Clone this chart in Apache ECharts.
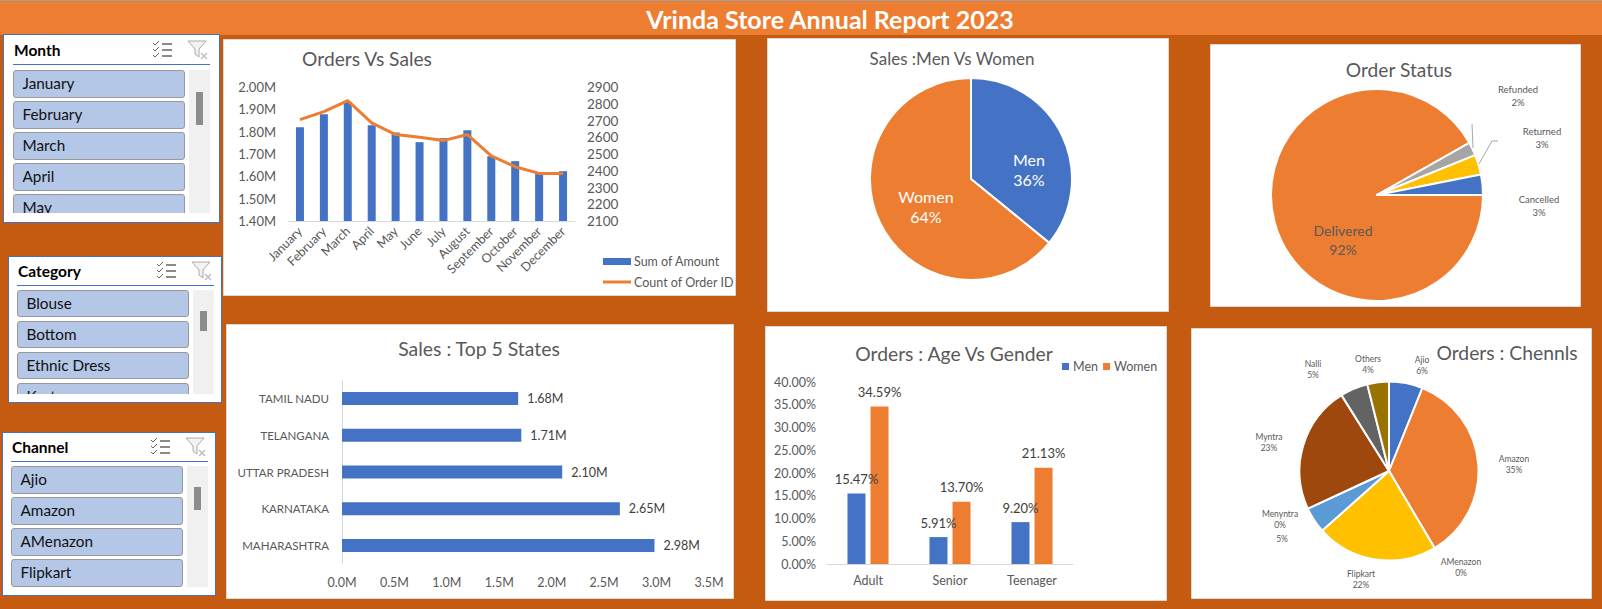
<!DOCTYPE html>
<html><head><meta charset="utf-8">
<script src="https://cdn.jsdelivr.net/npm/echarts@6/dist/echarts.min.js"></script>
<style>
html,body{margin:0;padding:0;background:#C55A11;overflow:hidden}
#chart{position:absolute;left:0;top:0;width:1602px;height:609px}
.slicer{position:absolute;background:#fff;border:1px solid #4472C4;box-sizing:border-box;font-family:Lato,"Noto Sans",sans-serif}
.slicer .t{position:absolute;font-size:15.5px;font-weight:700;color:#000;line-height:20px}
.slicer .u{position:absolute;height:1px;background:#4472C4;width:197px}
.slicer .list{position:absolute;overflow:hidden;width:172px}
.slicer .it{box-sizing:border-box;height:27.5px;margin-bottom:3.5px;background:#B4C7E7;border:1px solid #999;border-radius:3px;font-size:15.3px;line-height:25px;padding-left:8.5px;color:#111}
.slicer .sb{position:absolute;background:#F0F0F0;width:21px}
.slicer .th{position:absolute;background:#8C8C8C;left:7px;width:7px}
.slicer svg{position:absolute}
</style></head><body>
<div id="chart"></div>
<div id="slicers"></div>
<script>
// ---- data ----
const months = ['January','February','March','April','May','June','July','August','September','October','November','December'];
const sumOfAmount = [1820000,1878000,1933000,1829000,1796000,1753000,1771000,1806000,1690000,1668000,1613000,1623000];
const countOfOrders = [2705,2753,2819,2686,2616,2600,2580,2616,2489,2424,2384,2384];
const genderNames = ['Men','Women'];
const genderSales = [35.9,64.1];
const statusNames = ['Delivered','Refunded','Returned','Cancelled'];
const statusValues = [91.8,2.05,3.05,3.1];
const stateNames = ['MAHARASHTRA','KARNATAKA','UTTAR PRADESH','TELANGANA','TAMIL NADU'];
const stateSales = [2980000,2650000,2100000,1710000,1680000];
const ageGroups = ['Adult','Senior','Teenager'];
const menOrders = [15.47,5.91,9.20];
const womenOrders = [34.59,13.70,21.13];
const channelNames = ['Ajio','Amazon','AMenazon','Flipkart','','Menyntra','Myntra','Nalli','Others'];
const channelValues = [6.1,35.4,0,21.9,4.7,0,23,5,3.9];
const monthSlicer = ['January','February','March','April','May'];
const categorySlicer = ['Blouse','Bottom','Ethnic Dress','Kurta'];
const channelSlicer = ['Ajio','Amazon','AMenazon','Flipkart'];

// ---- style ----
const FONT='Lato, "Noto Sans", sans-serif', BLUE='#4472C4', ORANGE='#ED7D31', GRAY='#595959', AXIS='#D9D9D9';
const axisText={color:GRAY,fontFamily:FONT,fontSize:12.5};
const panels=[[223,39,512,256],[767,38,401,273],[1210,44,370,262],[226,324,507,274],[765,326,401,274],[1191,328,400,270]];
const rect=(x,y,w,h,fill,stroke)=>({type:'rect',silent:true,shape:{x,y,width:w,height:h},style:{fill,stroke:stroke||null,lineWidth:1}});
const poly=pts=>({type:'polyline',silent:true,z:10,shape:{points:pts},style:{stroke:'#A6A6A6',lineWidth:1,fill:null}});
const title=(text,x,y,size)=>({text,left:x,top:y,padding:0,textAlign:'center',textVerticalAlign:'middle',textStyle:{color:GRAY,fontFamily:FONT,fontWeight:'normal',fontSize:size}});

const statusPos={Delivered:[1343,240],Refunded:[1518,96],Returned:[1542,138],Cancelled:[1539,206]};
const channelPos={Ajio:[1422,365],Amazon:[1514,464],AMenazon:[1461,567],Flipkart:[1361,579],'':[1282,539],Menyntra:[1280,519],Myntra:[1269,442],Nalli:[1313,369],Others:[1368,364]};
const genderPos={Men:[1029,169],Women:[926,206]};
const placer=(names,pos)=>p=>{const q=pos[names[p.dataIndex]];return {x:q[0],y:q[1],align:'center',verticalAlign:'middle'};};
const pieLabel=(size,color,lh)=>({show:true,position:'outside',color,fontFamily:FONT,fontSize:size,lineHeight:lh,alignTo:'none',
  formatter:p=>(p.name?p.name+'\n':'')+p.percent+'%'});
const pieBase={type:'pie',clockwise:true,percentPrecision:0,labelLine:{show:false},emphasis:{disabled:true},animation:false,silent:true,stillShowZeroSum:true,itemStyle:{borderColor:'#fff',borderWidth:2},avoidLabelOverlap:false};

const chart=echarts.init(document.getElementById('chart'),null,{renderer:'svg',width:1602,height:609});
chart.setOption({
  animation:false,
  graphic:[
    rect(0,0,1602,609,'#C55A11'),
    rect(0,0,1602,35,ORANGE),
    rect(0,0,1602,1,'#A0A0A0'),
    ...panels.map(p=>rect(p[0]+.5,p[1]+.5,p[2],p[3],'#fff',AXIS)),
    {type:'text',silent:true,x:830,y:19,style:{text:'Vrinda Store Annual Report 2023',fill:'#fff',fontFamily:FONT,fontWeight:700,fontSize:25,align:'center',verticalAlign:'middle'}},
    poly([[1472,124],[1473,148]]),
    poly([[1498,141],[1492,141],[1479,164]])
  ],
  title:[
    title('Orders Vs Sales',367,58,19.2),
    title('Sales :Men Vs Women',952,58,17),
    title('Order Status',1399,69,19.2),
    title('Sales : Top 5 States',479,348,19.4),
    title('Orders : Age Vs Gender',954,353,19.3),
    title('Orders : Chennls',1507,352,19.3)
  ],
  legend:[
    {data:[{name:'Sum of Amount',icon:'rect'},{name:'Count of Order ID',icon:'path://M0,0H28V3H0Z'}],orient:'vertical',padding:0,left:603,top:255,itemWidth:28,itemHeight:7,itemGap:7.5,textStyle:{color:GRAY,fontFamily:FONT,fontSize:12.5,padding:[0,0,0,-2]}},
    {data:['Men','Women'].map(name=>({name,icon:'rect'})),padding:0,left:1062,top:360,itemWidth:7,itemHeight:7,itemGap:5,textStyle:{color:GRAY,fontFamily:FONT,fontSize:12.5,padding:[0,0,0,-1]}}
  ],
  grid:[
    {left:288,top:87,width:287,height:134},
    {left:342,top:380,width:367,height:184},
    {left:827,top:382,width:246,height:182}
  ],
  xAxis:[
    {gridIndex:0,type:'category',data:months,axisTick:{show:false},axisLine:{lineStyle:{color:AXIS}},axisLabel:{...axisText,rotate:45,interval:0,margin:8}},
    {gridIndex:1,type:'value',min:0,max:3500000,interval:500000,splitLine:{show:false},axisLabel:{...axisText,margin:12,formatter:v=>(v/1e6).toFixed(1)+'M'}},
    {gridIndex:2,type:'category',data:ageGroups,axisTick:{show:false},axisLine:{lineStyle:{color:AXIS}},axisLabel:{...axisText,margin:10}}
  ],
  yAxis:[
    {gridIndex:0,type:'value',min:1400000,max:2000000,interval:100000,splitLine:{show:false},axisLabel:{...axisText,fontSize:13,margin:12,formatter:v=>(v/1e6).toFixed(2)+'M'}},
    {gridIndex:0,type:'value',min:2100,max:2900,interval:100,position:'right',splitLine:{show:false},axisLabel:{...axisText,fontSize:13.5,margin:12,formatter:v=>String(v)}},
    {gridIndex:1,type:'category',data:stateNames,axisTick:{show:false},axisLine:{lineStyle:{color:AXIS}},axisLabel:{...axisText,fontSize:11.5,margin:13}},
    {gridIndex:2,type:'value',min:0,max:40,interval:5,splitLine:{show:false},axisLabel:{...axisText,margin:11,formatter:v=>v.toFixed(2)+'%'}}
  ],
  series:[
    {name:'Sum of Amount',type:'bar',xAxisIndex:0,yAxisIndex:0,data:sumOfAmount,barWidth:8,itemStyle:{color:BLUE},silent:true},
    {name:'Count of Order ID',type:'line',xAxisIndex:0,yAxisIndex:1,data:countOfOrders,symbol:'none',lineStyle:{color:ORANGE,width:3},itemStyle:{color:ORANGE},silent:true},
    {type:'bar',xAxisIndex:1,yAxisIndex:2,data:stateSales,barWidth:13,itemStyle:{color:BLUE},silent:true,
      label:{show:true,position:'right',distance:9,color:'#404040',fontFamily:FONT,fontSize:12.5,formatter:p=>(p.value/1e6).toFixed(2)+'M'}},
    {name:'Men',type:'bar',xAxisIndex:2,yAxisIndex:3,data:menOrders,barWidth:18,barGap:'28%',itemStyle:{color:BLUE},silent:true,
      label:{show:true,position:'top',distance:8,color:'#404040',fontFamily:FONT,fontSize:13,formatter:p=>p.value.toFixed(2)+'%'}},
    {name:'Women',type:'bar',xAxisIndex:2,yAxisIndex:3,data:womenOrders,barWidth:18,itemStyle:{color:ORANGE},silent:true,
      label:{show:true,position:'top',distance:8,color:'#404040',fontFamily:FONT,fontSize:13,formatter:p=>p.value.toFixed(2)+'%'}},
    {...pieBase,center:[971,179],radius:101,startAngle:90,
      data:genderNames.map((name,i)=>({name,value:genderSales[i]})),
      color:[BLUE,ORANGE],label:pieLabel(16,'#fff',20),labelLayout:placer(genderNames,genderPos)},
    {...pieBase,center:[1377,195],radius:106,startAngle:0,
      data:statusNames.map((name,i)=>({name,value:statusValues[i],label:i===0?{fontSize:14,lineHeight:19,color:'#595959'}:{}})),
      color:[ORANGE,'#A5A5A5','#FFC000',BLUE],label:pieLabel(9.5,GRAY,13),labelLayout:placer(statusNames,statusPos)},
    {...pieBase,center:[1389,471],radius:89.5,startAngle:90,
      data:channelNames.map((name,i)=>({name,value:channelValues[i]})),
      color:[BLUE,ORANGE,'#A5A5A5','#FFC000','#5B9BD5','#70AD47','#9E480E','#636363','#997300'],label:pieLabel(8.5,GRAY,11),labelLayout:placer(channelNames,channelPos)}
  ]
});

// ---- slicers ----
const checkIcon=(x,y)=>`<svg style="left:${x}px;top:${y}px" width="22" height="18" viewBox="0 0 22 18" fill="none" stroke="#666"><path d="M1 3l2 2 4-4M1 9l2 2 4-4M1 15l2 2 4-4" stroke-width="1"/><path d="M10 4h10M10 10h10M10 16h10" stroke-width="1.6"/></svg>`;
const filterIcon=(x,y)=>`<svg style="left:${x}px;top:${y}px" width="22" height="20" viewBox="0 0 22 20" fill="none"><path d="M1 1h18l-7 8v8l-4-3V9z" stroke="#aaa" fill="#f2f2f2"/><path d="M14 13l6 6M20 13l-6 6" stroke="#bbb" stroke-width="1.4"/></svg>`;
function slicer(name,items,b,o){
  return `<div class="slicer" style="left:${b[0]}px;top:${b[1]}px;width:${b[2]}px;height:${b[3]}px">
  <div class="t" style="left:${o.left+1}px;top:${o.titleTop}px">${name}</div>${checkIcon(o.left+139,o.titleTop)}${filterIcon(o.left+174,o.titleTop)}
  <div class="u" style="left:${o.left}px;top:${o.lineTop}px"></div>
  <div class="list" style="left:${o.left}px;top:${o.listTop}px;height:${o.listH}px">${items.map(t=>`<div class="it">${t}</div>`).join('')}</div>
  <div class="sb" style="left:${o.left+176}px;top:${o.listTop}px;height:${o.listH}px"><div class="th" style="top:${o.thTop}px;height:${o.thH}px"></div></div></div>`;
}
document.getElementById('slicers').innerHTML=
  slicer('Month',monthSlicer,[3,34,217,189],{left:9,titleTop:5,lineTop:29,listTop:35,listH:143,thTop:22,thH:33})+
  slicer('Category',categorySlicer,[8,256,214,147],{left:8,titleTop:4,lineTop:28,listTop:32.5,listH:104,thTop:21,thH:20})+
  slicer('Channel',channelSlicer,[2,432,214,164],{left:8,titleTop:4,lineTop:28,listTop:33,listH:121,thTop:21,thH:23});
</script>
</body></html>
